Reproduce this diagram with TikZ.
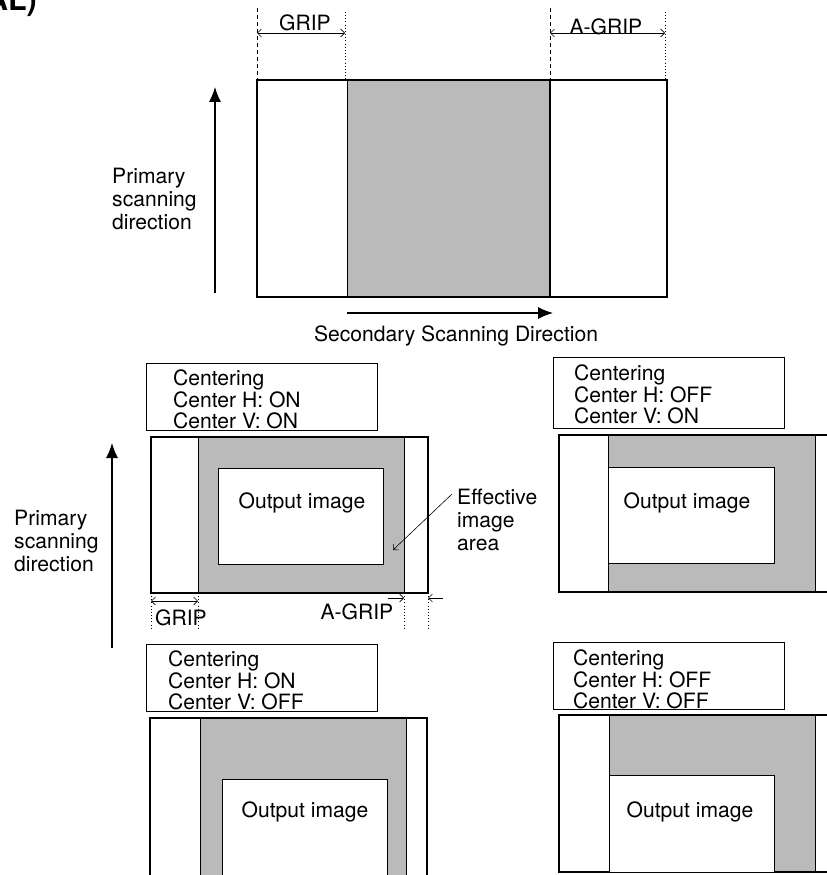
\documentclass[tikz,border=0pt]{standalone}
\usepackage{fontspec}
\setmainfont{TeX Gyre Heros}
\usetikzlibrary{arrows.meta}

\begin{document}
\begin{tikzpicture}[x=0.03cm,y=-0.03cm,
  txt/.style={font=\fontsize{18}{19.6}\selectfont,inner sep=0pt},
  lbl/.style={txt,align=left,anchor=north west},
  ctext/.style={font=\fontsize{18}{18}\selectfont,inner sep=0pt,align=left,anchor=north west},
  cbox/.style={draw,line width=0.7pt},
  frame/.style={draw,line width=1.1pt},
  shade/.style={fill=black!27},
  thin/.style={line width=0.7pt},
  dim/.style={{Straight Barb[length=1.2mm]}-{Straight Barb[length=1.2mm]},line width=0.5pt},
  pin/.style={-{Straight Barb[length=1.2mm]},line width=0.5pt},
  dimln/.style={dotted,line width=0.7pt},
  dir/.style={-{Latex[length=4.5mm,width=3.6mm]},line width=1pt}]

\useasboundingbox (0,0) rectangle (826,875);

\node[txt,font=\bfseries\fontsize{26}{26}\selectfont,anchor=base east] (title) at (37,11) {AL)};

% --- top: original with grip areas ---
\fill[shade] (347,80) rectangle (550,297);
\draw[line width=1.8pt] (257,80) rectangle (667,297);
\draw[thin] (347,80) -- (347,297);
\draw[line width=1.8pt] (550,80) -- (550,297);

\draw[dashed,thin] (257,8) -- (257,80);
\draw[dimln] (345,12) -- (345,80);
\coordinate (g1) at (257,33); \coordinate (g2) at (345,33);
\draw[dim] (g1) -- (g2);
\node[txt] (grip) at (305,23) {GRIP};

\draw[dashed,thin] (550,8) -- (550,80);
\draw[dimln] (665,12) -- (665,80);
\coordinate (a1) at (550,33); \coordinate (a2) at (665,33);
\draw[dim] (a1) -- (a2);
\node[txt] (agrip) at (606,27) {A-GRIP};

\coordinate (p1) at (215,293); \coordinate (p2) at (215,87);
\draw[dir] (p1) -- (p2);
\node[lbl] (prim) at (112,168) {Primary\\scanning\\direction};

\coordinate (s1) at (347,313); \coordinate (s2) at (553,313);
\draw[dir] (s1) -- (s2);
\node[txt] (sec) at (456,336) {Secondary Scanning Direction};

% --- centre H on, centre V on ---
\draw[cbox] (146,363) rectangle (377,430);
\node[ctext] (c1) at (173,370) {Centering\\Center H: ON\\Center V: ON};
\fill[shade] (198,437) rectangle (404,593);
\draw[frame] (151,437) rectangle (428,593);
\draw[thin] (198,437) -- (198,593) (404,437) -- (404,593);
\draw[thin,fill=white] (218,468) rectangle (383,564);
\node[txt] (o1) at (302,503) {Output image};

\node[lbl] (eff) at (457,489) {Effective\\image\\area};
\coordinate (effpt) at (393,550);
\draw[pin] ([shift={(-5,5)}]eff.north west) -- (effpt);

\draw[dimln] (151,593) -- (151,630) (198,593) -- (198,630);
\coordinate (h1) at (151,601); \coordinate (h2) at (198,601);
\draw[dim] (h1) -- (h2);
\node[txt] (grip2) at (181,618) {GRIP};

\draw[dimln] (404,593) -- (404,630) (428,593) -- (428,630);
\coordinate (k1) at (388,598); \coordinate (k2) at (404,598);
\coordinate (k3) at (443,598); \coordinate (k4) at (428,598);
\draw[pin] (k1) -- (k2);
\draw[pin] (k3) -- (k4);
\node[txt] (agrip2) at (357,612) {A-GRIP};

\coordinate (q1) at (112,648); \coordinate (q2) at (112,443);
\draw[dir] (q1) -- (q2);
\node[lbl] (prim2) at (14,510) {Primary\\scanning\\direction};

% --- centre H off, centre V on ---
\draw[cbox] (553,357) rectangle (784,428);
\node[ctext] (c2) at (574,365) {Centering\\Center H: OFF\\Center V: ON};
\fill[shade] (608,435) rectangle (815,592);
\draw[frame] (559,435) rectangle (836,592);
\draw[thin] (608,435) -- (608,592) (815,435) -- (815,592);
\draw[thin,fill=white] (608,467) rectangle (774,563);
\node[txt] (o2) at (687,503) {Output image};

% --- centre H on, centre V off ---
\draw[cbox] (146,644) rectangle (377,711);
\node[ctext] (c3) at (168,651) {Centering\\Center H: ON\\Center V: OFF};
\fill[shade] (200,718) rectangle (406,885);
\draw[frame] (150,718) rectangle (427,885);
\draw[thin] (200,718) -- (200,885) (406,718) -- (406,885);
\draw[thin,fill=white] (222,779) rectangle (387,885);
\node[txt] (o3) at (305,812) {Output image};

% --- centre H off, centre V off ---
\draw[cbox] (553,642) rectangle (784,709);
\node[ctext] (c4) at (573,650) {Centering\\Center H: OFF\\Center V: OFF};
\fill[shade] (609,715) rectangle (815,872);
\draw[frame] (559,715) rectangle (836,872);
\draw[thin] (609,715) -- (609,872) (815,715) -- (815,872);
\draw[thin,fill=white] (609,775) rectangle (774,872);
\node[txt] (o4) at (690,812) {Output image};
\end{tikzpicture}
\end{document}
